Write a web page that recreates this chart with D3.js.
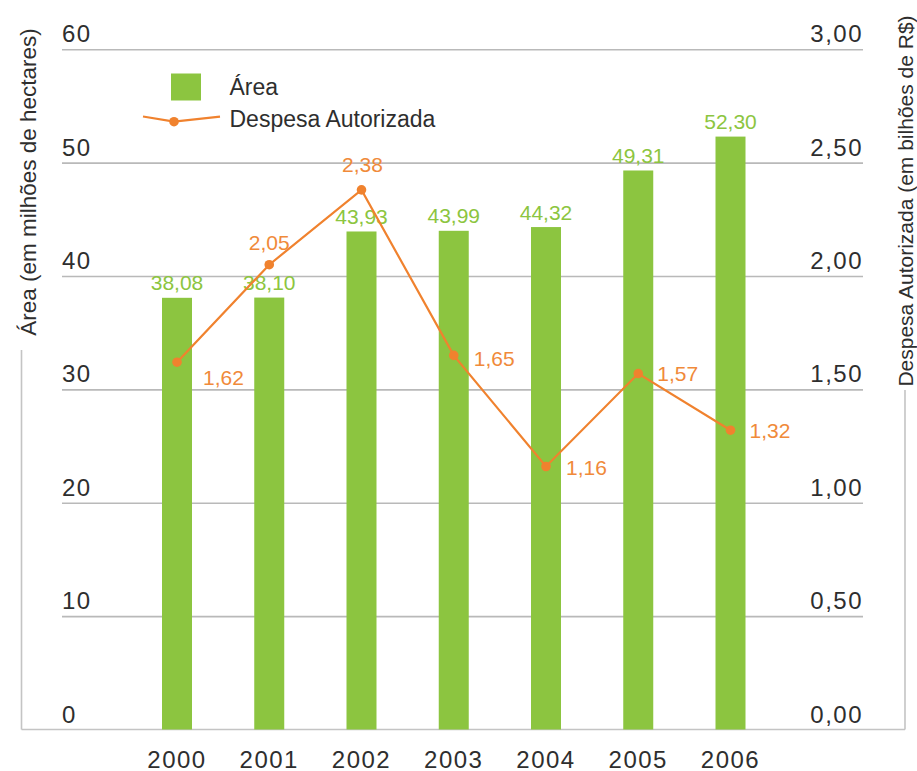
<!DOCTYPE html>
<html>
<head>
<meta charset="utf-8">
<script src="https://cdn.jsdelivr.net/npm/d3@7/dist/d3.min.js"></script>
<style>
  html, body { margin: 0; padding: 0; background: #fff; }
  svg { display: block; font-family: "Liberation Sans", Arial, Helvetica, sans-serif; }
</style>
</head>
<body>
<svg id="chart" width="917" height="771"></svg>
<script>
// ---- data ----
const years = ["2000", "2001", "2002", "2003", "2004", "2005", "2006"];
const area = [38.08, 38.10, 43.93, 43.99, 44.32, 49.31, 52.30];
const despesa = [1.62, 2.05, 2.38, 1.65, 1.16, 1.57, 1.32];
const leftTicks = [0, 10, 20, 30, 40, 50, 60];
const rightTicks = [0, 0.5, 1, 1.5, 2, 2.5, 3];
const seriesNames = ["Área", "Despesa Autorizada"];
const leftTitle = "Área (em milhões de hectares)";
const rightTitle = "Despesa Autorizada (em bilhões de R$)";

// ---- layout / style ----
const GREEN = "#8cc540";
const ORANGE = "#f0822e";
const ORANGE_TXT = "#f08a3a";
const TEXT = "#2e2e2e";
const GRID = "#b9b9b9";
const FRAME = "#c4c4c4";

const plotTop = 49.3, plotBottom = 729.5;
const gridX0 = 62, gridX1 = 863;
const frameL = 21.5, frameR = 905;

// label placement for the line values: [anchor, dx, dy]
const lineLabelPlacement = [
  ["start", 26, 23], ["middle", 0, -15], ["middle", 1, -18],
  ["start", 20, 11], ["start", 20, 8.5], ["start", 19, 7], ["start", 19, 8]
];

const fmt = (v, d) => v.toFixed(d).replace(".", ",");

const svg = d3.select("#chart");

const yL = d3.scaleLinear().domain([0, 60]).range([plotBottom, plotTop]);
const yR = d3.scaleLinear().domain([0, 3]).range([plotBottom, plotTop]);
const x = d3.scaleBand().domain(years)
  .range([130.875, 776.625]).paddingInner(0.6748).paddingOuter(0.3374);
const cx = d => x(d) + x.bandwidth() / 2;

// gridlines (left axis with long ticks)
const gridAxis = d3.axisRight(yL).tickValues(leftTicks.filter(t => t > 0))
  .tickSize(gridX1 - gridX0).tickFormat("");
const gG = svg.append("g").attr("transform", `translate(${gridX0},0)`).call(gridAxis);
gG.select(".domain").remove();
gG.selectAll(".tick line").attr("stroke", GRID).attr("stroke-width", 1.6);

// left tick labels
svg.append("g").selectAll("text").data(leftTicks).join("text")
  .attr("x", gridX0).attr("y", d => yL(d) - 7)
  .attr("font-size", 24).attr("letter-spacing", 1.5).attr("fill", TEXT)
  .text(d => d);

// right tick labels
svg.append("g").selectAll("text").data(rightTicks).join("text")
  .attr("x", gridX1).attr("y", d => yR(d) - 7)
  .attr("text-anchor", "end")
  .attr("font-size", 24).attr("letter-spacing", 1.5).attr("fill", TEXT)
  .text(d => fmt(d, 2));

// frame
svg.append("line").attr("x1", frameL).attr("x2", frameR)
  .attr("y1", plotBottom).attr("y2", plotBottom)
  .attr("stroke", FRAME).attr("stroke-width", 1.6);
svg.append("line").attr("x1", frameL).attr("x2", frameL)
  .attr("y1", 350).attr("y2", plotBottom)
  .attr("stroke", FRAME).attr("stroke-width", 1.6);
svg.append("line").attr("x1", frameR).attr("x2", frameR)
  .attr("y1", 390).attr("y2", plotBottom)
  .attr("stroke", FRAME).attr("stroke-width", 1.6);

// axis titles
svg.append("text")
  .attr("transform", `translate(36,182) rotate(-90)`)
  .attr("text-anchor", "middle").attr("font-size", 22.5).attr("fill", TEXT)
  .text(leftTitle);
svg.append("text")
  .attr("transform", `translate(913,201) rotate(-90)`)
  .attr("text-anchor", "middle").attr("font-size", 21).attr("fill", TEXT)
  .text(rightTitle);

// bars
svg.append("g").selectAll("rect").data(area).join("rect")
  .attr("x", (d, i) => x(years[i]))
  .attr("width", x.bandwidth())
  .attr("y", d => yL(d))
  .attr("height", d => yL(0) - yL(d))
  .attr("fill", GREEN);

// bar value labels
svg.append("g").selectAll("text").data(area).join("text")
  .attr("x", (d, i) => cx(years[i]))
  .attr("y", d => yL(d) - 7.5)
  .attr("text-anchor", "middle")
  .attr("font-size", 21).attr("fill", GREEN)
  .text(d => fmt(d, 2));

// year labels
const xAxis = d3.axisBottom(x).tickSize(0).tickPadding(0);
const xg = svg.append("g").attr("transform", `translate(0,${plotBottom})`).call(xAxis);
xg.select(".domain").remove();
xg.selectAll(".tick text")
  .attr("y", 38).attr("dy", 0)
  .attr("font-size", 24).attr("letter-spacing", 1.5)
  .attr("font-family", "'Liberation Sans', Arial, Helvetica, sans-serif")
  .attr("fill", TEXT);

// line
const line = d3.line().x((d, i) => cx(years[i])).y(d => yR(d));
svg.append("path").datum(despesa)
  .attr("d", line).attr("fill", "none")
  .attr("stroke", ORANGE).attr("stroke-width", 2.2);
svg.append("g").selectAll("circle").data(despesa).join("circle")
  .attr("cx", (d, i) => cx(years[i])).attr("cy", d => yR(d))
  .attr("r", 4.8).attr("fill", ORANGE);

// line value labels
svg.append("g").selectAll("text").data(despesa).join("text")
  .attr("x", (d, i) => cx(years[i]) + lineLabelPlacement[i][1])
  .attr("y", (d, i) => yR(d) + lineLabelPlacement[i][2])
  .attr("text-anchor", (d, i) => lineLabelPlacement[i][0])
  .attr("font-size", 21).attr("fill", ORANGE_TXT)
  .text(d => fmt(d, 2));

// legend
const lg = svg.append("g");
lg.append("rect").attr("x", 171).attr("y", 73.5).attr("width", 30).attr("height", 27)
  .attr("fill", GREEN);
lg.append("text").attr("x", 229.5).attr("y", 94.5)
  .attr("font-size", 23).attr("fill", TEXT).text(seriesNames[0]);
lg.append("path").attr("d", "M143,116.5 L174,121.7 L220,116.7")
  .attr("fill", "none").attr("stroke", ORANGE).attr("stroke-width", 2.2);
lg.append("circle").attr("cx", 174).attr("cy", 121.7).attr("r", 4.8).attr("fill", ORANGE);
lg.append("text").attr("x", 229.5).attr("y", 126.7)
  .attr("font-size", 23).attr("fill", TEXT).text(seriesNames[1]);
</script>
</body>
</html>
